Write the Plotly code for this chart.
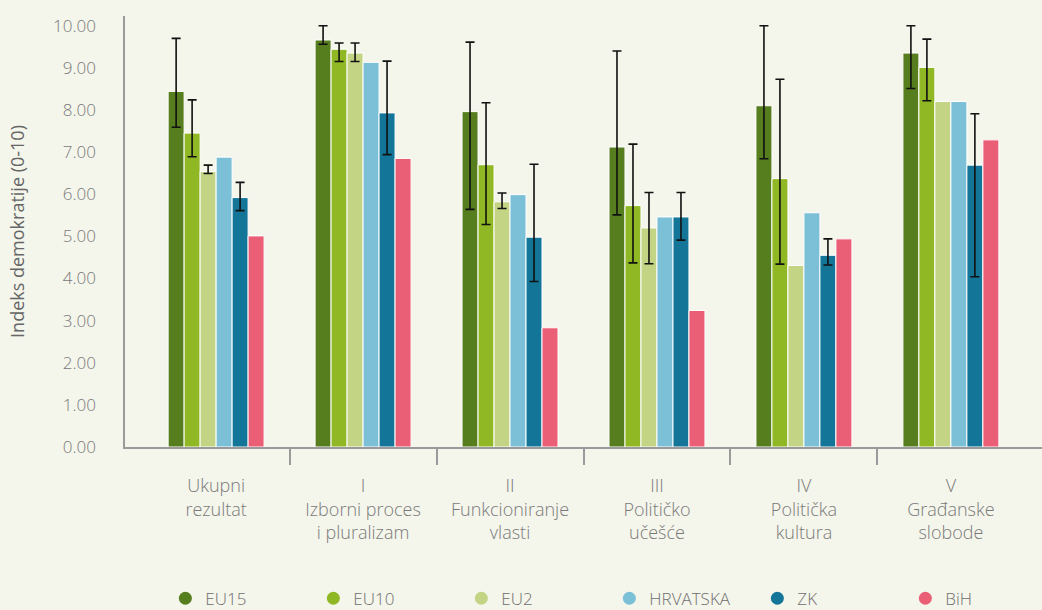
import plotly.graph_objects as go

categories = ["Ukupni<br>rezultat", "I<br>Izborni proces<br>i pluralizam", "II<br>Funkcioniranje<br>vlasti",
              "III<br>Političko<br>učešće", "IV<br>Politička<br>kultura", "V<br>Građanske<br>slobode"]
series = ["EU15", "EU10", "EU2", "HRVATSKA", "ZK", "BiH"]
colors = ["#567D1E", "#8FB824", "#C4D485", "#7CC0D8", "#137699", "#EB5F76"]

eu15 = [8.44, 9.66, 7.96, 7.12, 8.10, 9.35]
eu10 = [7.45, 9.44, 6.70, 5.73, 6.37, 9.01]
eu2 = [6.54, 9.35, 5.82, 5.20, 4.31, 8.20]
hrvatska = [6.88, 9.13, 5.99, 5.46, 5.56, 8.20]
zk = [5.92, 7.93, 4.98, 5.46, 4.55, 6.69]
bih = [5.01, 6.85, 2.83, 3.24, 4.94, 7.29]

eu15_min = [7.59, 9.56, 5.64, 5.51, 6.84, 8.51]
eu15_max = [9.70, 10.00, 9.61, 9.40, 10.00, 10.00]
eu10_min = [6.89, 9.15, 5.28, 4.37, 4.34, 8.22]
eu10_max = [8.24, 9.59, 8.17, 7.19, 8.73, 9.68]
eu2_min = [6.49, 9.15, 5.66, 4.35, None, None]
eu2_max = [6.69, 9.59, 6.03, 6.04, None, None]
zk_min = [5.61, 6.94, 3.93, 4.91, 4.32, 4.04]
zk_max = [6.28, 9.16, 6.71, 6.04, 4.94, 7.91]

values = [eu15, eu10, eu2, hrvatska, zk, bih]
mins = [eu15_min, eu10_min, eu2_min, None, zk_min, None]
maxs = [eu15_max, eu10_max, eu2_max, None, zk_max, None]

FONT = "Open Sans"
xpos = list(range(len(categories)))

fig = go.Figure()
for name, col, vals, mn, mx in zip(series, colors, values, mins, maxs):
    marker = dict(color=col, line=dict(color="#FFFFFF", width=1))
    if mn is None:
        fig.add_trace(go.Bar(x=xpos, y=vals, name=name, marker=marker, offsetgroup=name,
                             showlegend=False, legendgroup=name))
    else:
        has = [h is not None for h in mx]
        xe = [x for x, s in zip(xpos, has) if s]
        ye = [v for v, s in zip(vals, has) if s]
        plus = [h - v for v, h, s in zip(vals, mx, has) if s]
        minus = [v - l for v, l, s in zip(vals, mn, has) if s]
        err = dict(type="data", symmetric=False, array=plus, arrayminus=minus,
                   color="#111111", thickness=1.6, width=4.5)
        fig.add_trace(go.Bar(x=xe, y=ye, name=name, marker=marker, offsetgroup=name, error_y=err,
                             showlegend=False, legendgroup=name))
        xn = [x for x, s in zip(xpos, has) if not s]
        yn = [v for v, s in zip(vals, has) if not s]
        if xn:
            fig.add_trace(go.Bar(x=xn, y=yn, name=name, marker=marker, offsetgroup=name,
                                 showlegend=False, legendgroup=name))
    fig.add_trace(go.Scatter(x=[None], y=[None], mode="markers", name=name, legendgroup=name,
                             marker=dict(color=col, size=13, symbol="circle")))

fig.update_layout(
    width=1042, height=610,
    paper_bgcolor="#F4F5EB", plot_bgcolor="#F4F5EB",
    margin=dict(l=125, r=0, t=16, b=163, autoexpand=False),
    barmode="group", bargap=0.347, bargroupgap=0.0,
    font=dict(family=FONT, color="#7A7A7A", size=17, weight=300),
    showlegend=True,
    legend=dict(orientation="h", x=0.044, xanchor="left", y=-0.352, yanchor="middle",
                entrywidth=103, entrywidthmode="pixels", itemwidth=30,
                font=dict(family=FONT, size=17, color="#6F6F6F", weight=300),
                bgcolor="rgba(0,0,0,0)"),
)
fig.update_xaxes(
    range=[-0.62, 5.62], tickmode="array", tickvals=xpos, ticktext=categories, automargin=False,
    ticks="", showgrid=False, zeroline=False, showline=True, linecolor="#9A9A9A", linewidth=1.5,
    tickfont=dict(family=FONT, size=18, color="#7A7A7A", weight=300),
    ticklabelstandoff=22,
    minor=dict(tickmode="array", tickvals=[0.5, 1.5, 2.5, 3.5, 4.5], ticks="outside", ticklen=16,
               tickcolor="#9A9A9A", tickwidth=1.5, showgrid=False),
)
fig.update_yaxes(
    range=[0, 10.23], tickmode="array", tickvals=list(range(0, 11)), automargin=False,
    ticktext=[f"{v:.2f}" for v in range(0, 11)],
    showgrid=False, zeroline=False, showline=True, linecolor="#9A9A9A", linewidth=1.5,
    ticks="", ticklabelstandoff=24,
    tickfont=dict(family=FONT, size=17, color="#7A7A7A", weight=300),
    title=dict(text="Indeks demokratije (0-10)", standoff=24,
               font=dict(family=FONT, size=18, color="#666666", weight=400)),
)

fig.write_html("out.html", config={"displayModeBar": False},
               post_script="document.body.style.margin='0';document.body.style.background='#F4F5EB';")
